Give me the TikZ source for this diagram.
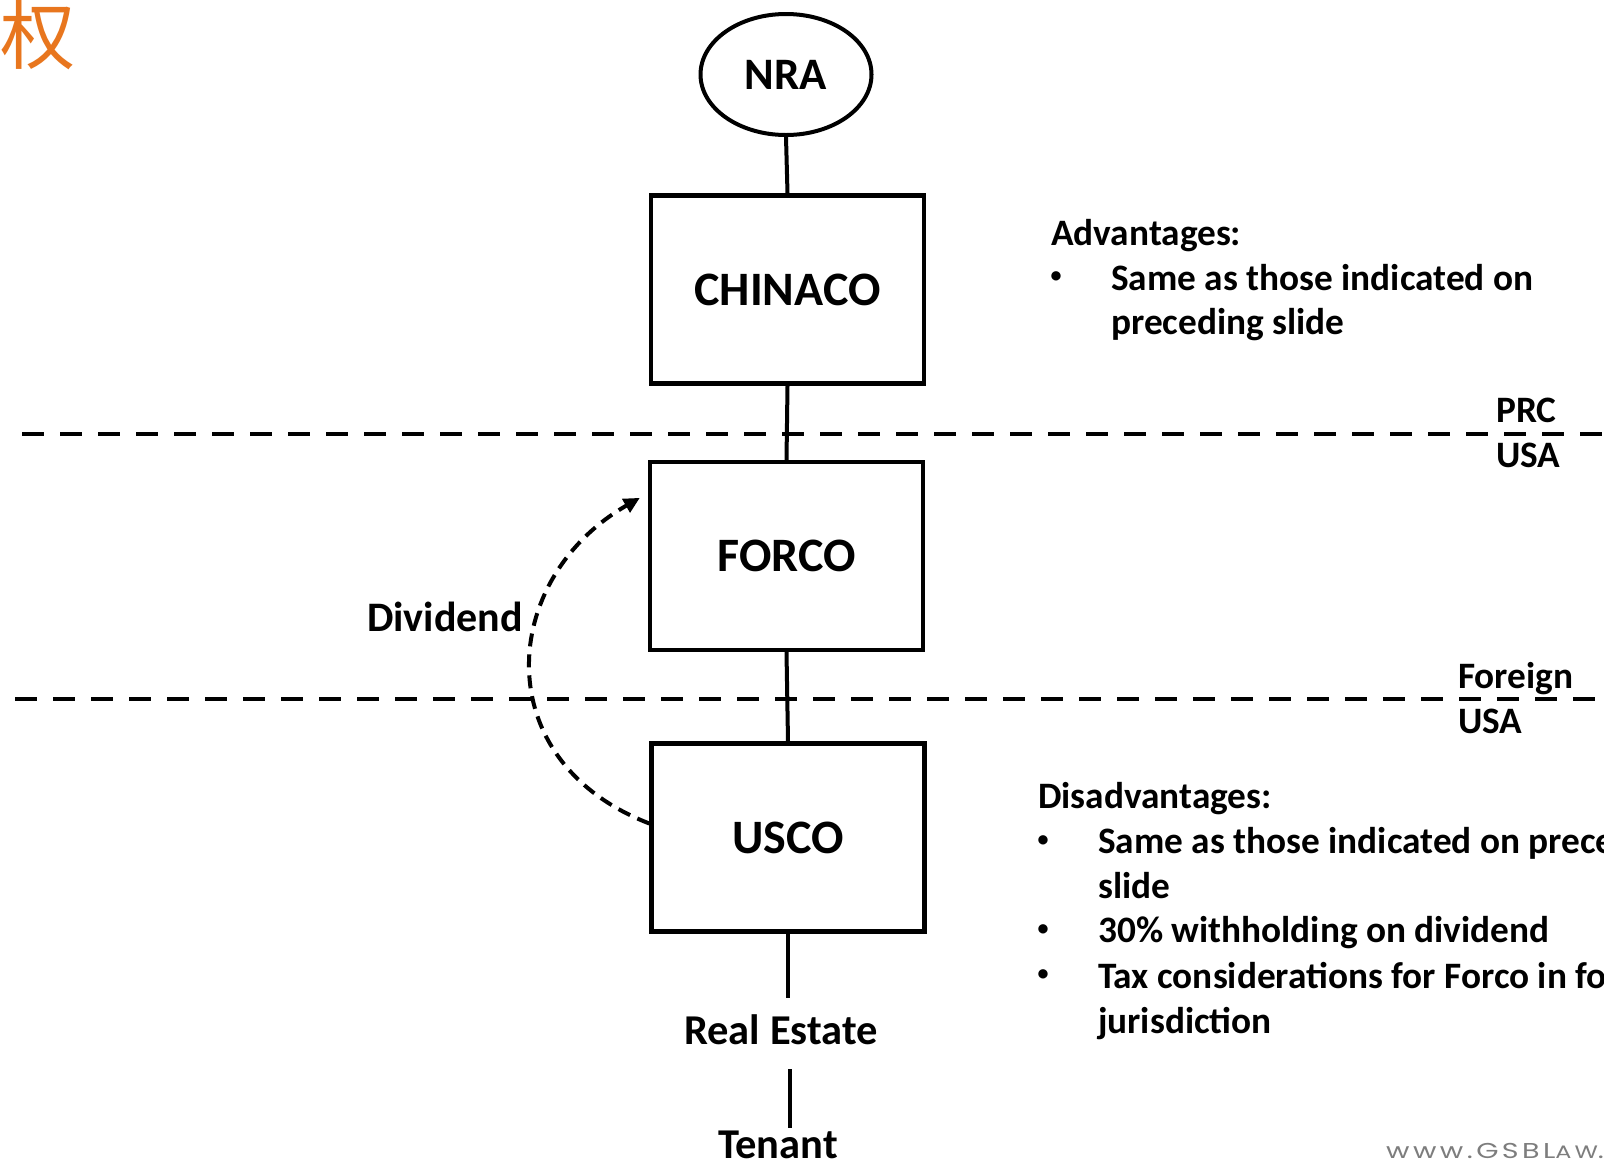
\documentclass[tikz,border=0pt]{standalone}
\usepackage{fontspec}
\setmainfont{Carlito}
\newfontfamily\cjkfont{Noto Sans CJK SC}
\newfontfamily\urlfont[LetterSpace=12]{Poppins}
\usetikzlibrary{arrows.meta,shapes.geometric}
\definecolor{hanorange}{RGB}{232,118,30}
\definecolor{urlgrey}{RGB}{125,125,125}

\begin{document}
\begin{tikzpicture}[x=1pt,y=-1pt,
  every node/.style={inner sep=0pt},
  box/.style={draw, line width=4.3pt, minimum width=273pt, minimum height=188pt,
    font=\fontsize{48}{56}\selectfont\bfseries},
  oval/.style={draw, ellipse, line width=4pt, minimum width=171pt, minimum height=121pt,
    font=\fontsize{45}{52}\selectfont\bfseries},
  link/.style={line width=4pt},
  border/.style={line width=4.5pt, dash pattern=on 22pt off 16pt},
  flow/.style={line width=4pt, dash pattern=on 13pt off 8pt,
    -{Triangle[length=16pt,width=15pt]}},
  body/.style={anchor=base west, font=\fontsize{37.3}{44}\selectfont\bfseries},
  bullet/.style={anchor=center, font=\fontsize{22}{26}\selectfont\bfseries},
  label/.style={anchor=base, font=\fontsize{42.5}{50}\selectfont\bfseries},
]
\useasboundingbox (0,0) rectangle (1604,1168);
\fill[white] (0,0) rectangle (1604,1168);

% corner character
\node[anchor=base west, text=hanorange, font=\cjkfont\fontsize{75}{80}\selectfont] (han) at (0,63) {权};

% jurisdiction borders
\draw[border] (22,434) -- (1604,434);
\draw[border] (15,699) -- (1604,699);
\node[body] (prc) at (1496,422) {PRC};
\node[body] (usaone) at (1496,467) {USA};
\node[body] (foreign) at (1458,688) {Foreign};
\node[body] (usatwo) at (1458,733) {USA};

% ownership chain
\node[oval] (nra) at (786,74.5) {NRA};
\node[box] (chinaco) at (787.5,289.5) {CHINACO};
\node[box] (forco) at (786.5,556) {FORCO};
\node[box] (usco) at (788,837.5) {USCO};
\node[label, text height=46pt, text depth=25pt] (estate) at (781,1044) {Real Estate};
\node[label, text height=30pt, text depth=8pt] (tenant) at (778,1158) {Tenant};

\draw[link] (nra.south) -- (chinaco.north);
\draw[link] (chinaco.south) -- (forco.north);
\draw[link] (forco.south) -- (usco.north);
\draw[link] (usco.south) -- (usco.south |- estate.north);
\draw[link] ([xshift=1.5pt]estate.south -| usco.south) -- ([xshift=1.5pt]tenant.north -| usco.south);

% dividend flow
\draw[flow] ([yshift=14pt]usco.west) .. controls +(-163,-63) and +(-141,81) ..
  ([xshift=-8pt,yshift=-38pt]forco.north west);
\node[anchor=base, font=\fontsize{42}{50}\selectfont\bfseries] (dividend) at (445,631) {Dividend};

% advantages
\node[body] (advhead) at (1051,245) {Advantages:};
\node[bullet] (advdot) at (1056,277) {•};
\node[body] (advone) at (1111,290) {Same as those indicated on};
\node[body] (advtwo) at (1111,334) {preceding slide};

% disadvantages
\node[body] (dishead) at (1038,808) {Disadvantages:};
\node[bullet] (disdotone) at (1043,841) {•};
\node[body] (disone) at (1098,853) {Same as those indicated on preceding};
\node[body] (disonecont) at (1098,898) {slide};
\node[bullet] (disdottwo) at (1043,930) {•};
\node[body] (distwo) at (1098,942) {30\% withholding on dividend};
\node[bullet] (disdotthree) at (1043,975) {•};
\node[body] (disthree) at (1098,988) {Tax considerations for Forco in foreign};
\node[body] (disthreecont) at (1098,1033) {jurisdiction};

% footer
\node[anchor=base west, text=urlgrey, font=\urlfont\fontsize{21.5}{26}\selectfont] (url)
  at (1386,1158) {\scalebox{1.33}[1]{www.GSBL{\fontsize{18}{22}\selectfont AW}.}};
\end{tikzpicture}
\end{document}
